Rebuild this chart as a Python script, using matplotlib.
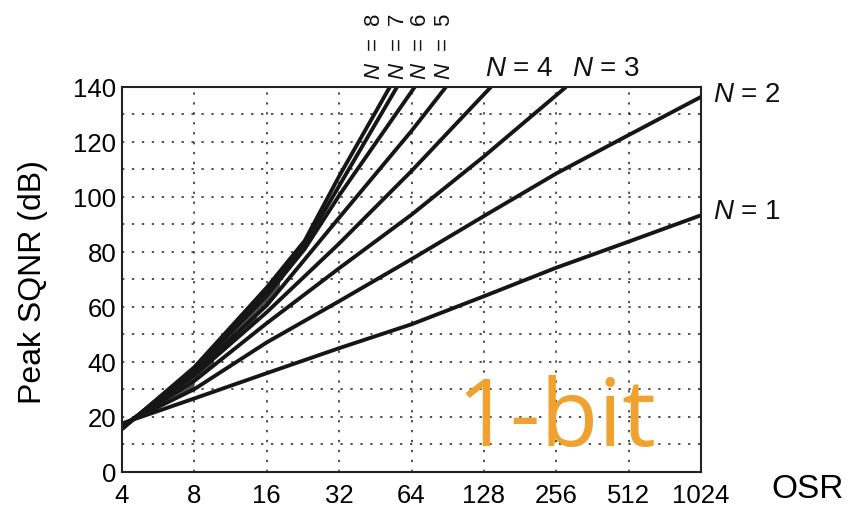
import numpy as np
import matplotlib.pyplot as plt
from matplotlib.ticker import FixedLocator, NullLocator, MultipleLocator

plt.rcParams['font.family'] = ['Liberation Sans', 'DejaVu Sans']
plt.rcParams['mathtext.fontset'] = 'custom'
plt.rcParams['mathtext.it'] = 'Liberation Sans:italic'
plt.rcParams['mathtext.rm'] = 'Liberation Sans'

osr_ticks = [4, 8, 16, 32, 64, 128, 256, 512, 1024]

# peak SQNR (dB), one pair of lists per order N
osr_n1 = [4, 8, 16, 32, 64, 128, 256, 512, 1024]
sqnr_n1 = [17.5, 26.6, 35.8, 44.9, 53.6, 63.8, 74.2, 83.7, 93.3]
osr_n2 = [4, 8, 16, 32, 64, 128, 256, 512, 1024]
sqnr_n2 = [17.0, 30.0, 47.0, 62.0, 77.3, 93.0, 108.5, 122.5, 136.4]
osr_n3 = [4, 8, 16, 32, 64, 128, 256, 281]
sqnr_n3 = [16.5, 33.0, 54.0, 74.0, 93.5, 114.7, 137.0, 140.0]
osr_n4 = [4, 8, 16, 32, 64, 128, 137]
sqnr_n4 = [16.3, 35.0, 58.0, 83.0, 109.4, 137.3, 140.0]
osr_n5 = [4, 8, 16, 32, 64, 89]
sqnr_n5 = [16.0, 36.0, 60.5, 92.4, 124.0, 140.0]
osr_n6 = [4, 8, 16, 23, 32, 66]
sqnr_n6 = [15.8, 37.0, 64.0, 81.0, 100.5, 140.0]
osr_n7 = [4, 8, 16, 23, 32, 55.7]
sqnr_n7 = [15.6, 37.5, 65.5, 82.5, 104.0, 140.0]
osr_n8 = [4, 8, 16, 23, 32, 52]
sqnr_n8 = [15.4, 38.0, 67.0, 84.0, 107.5, 140.0]

curves = [(osr_n1, sqnr_n1), (osr_n2, sqnr_n2), (osr_n3, sqnr_n3), (osr_n4, sqnr_n4),
          (osr_n5, sqnr_n5), (osr_n6, sqnr_n6), (osr_n7, sqnr_n7), (osr_n8, sqnr_n8)]
# OSR where each curve leaves the dark bundle at low OSR
merge_osr = [5.2, 8, 9.6, 14.5, 18, 23, 23, 23]

fig = plt.figure(figsize=(8.49, 5.06), dpi=100)
ax = fig.add_axes([122/849, 1-472.5/506, 579/849, 384.5/506])

# the dark bundle where the curves run together
xs = np.logspace(np.log2(4), np.log2(23), 200, base=2)
lo = np.full_like(xs, np.nan)
hi = np.full_like(xs, np.nan)
for (o, s), m in zip(curves, merge_osr):
    yv = np.interp(np.log2(xs), np.log2(o), s)
    inside = xs <= m
    lo = np.where(inside, np.fmin(lo, yv), lo)
    hi = np.where(inside, np.fmax(hi, yv), hi)
ax.fill_between(xs, lo, hi, color='#4d4d4d', lw=0)

for o, s in curves:
    ax.plot(o, s, color='#161616', lw=2.8, solid_capstyle='butt')

ax.set_xscale('log', base=2)
ax.set_xlim(4, 1024)
ax.set_ylim(0, 140)
ax.xaxis.set_major_locator(FixedLocator(osr_ticks))
ax.xaxis.set_minor_locator(NullLocator())
ax.set_xticklabels([str(t) for t in osr_ticks])
ax.yaxis.set_major_locator(MultipleLocator(20))
ax.yaxis.set_minor_locator(MultipleLocator(10))
ax.grid(True, which='both', color='#222222', ls=(0, (1.5, 5)), lw=1.1)
ax.tick_params(which='both', length=0)
ax.tick_params(axis='x', labelsize=18.5, pad=8)
ax.tick_params(axis='y', labelsize=18.5, pad=4)
for sp in ax.spines.values():
    sp.set_linewidth(1.5)
    sp.set_color('#222222')

fig.text(33/849, 1-282/506, 'Peak SQNR (dB)', rotation=90, fontsize=23,
         ha='center', va='center')
fig.text(808/849, 1-490/506, 'OSR', fontsize=24, ha='center', va='center')

lab = dict(fontsize=20, color='#111111')
fig.text(713/849, 1-95/506, r'$N$ = 2', ha='left', va='center', **lab)
fig.text(713/849, 1-212/506, r'$N$ = 1', ha='left', va='center', **lab)
fig.text(485/849, 1-69/506, r'$N$ = 4', ha='left', va='center', **lab)
fig.text(572/849, 1-69/506, r'$N$ = 3', ha='left', va='center', **lab)
for xp, n in zip([374, 398, 421, 445], [8, 7, 6, 5]):
    fig.text(xp/849, 1-80/506, r'$N$  =  %d' % n, rotation=90, fontsize=16,
             color='#111111', ha='center', va='bottom')

fig.text(556/849, 1-446/506, '1-bit', fontsize=68, color='#EFA22F',
         family=['Open Sans', 'DejaVu Sans'], ha='center', va='baseline')

fig.savefig('out.png', dpi=100)
